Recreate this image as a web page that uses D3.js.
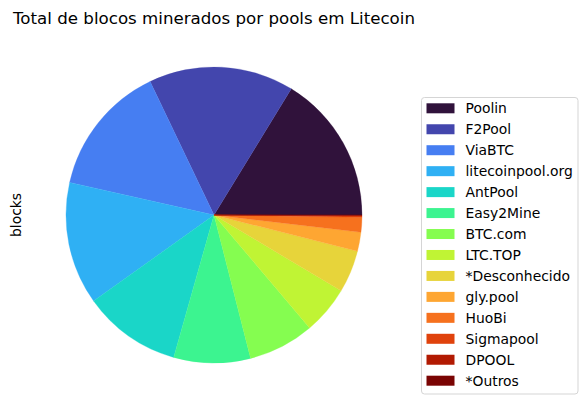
<!DOCTYPE html>
<html>
<head>
<meta charset="utf-8">
<script src="https://cdn.jsdelivr.net/npm/d3@7"></script>
<style>
  body { margin: 0; background: #fff; }
  svg text { font-family: "DejaVu Sans", sans-serif; fill: #000; }
</style>
</head>
<body>
<svg id="chart" width="588" height="411"></svg>
<script>
const pools = ["Poolin", "F2Pool", "ViaBTC", "litecoinpool.org", "AntPool", "Easy2Mine",
    "BTC.com", "LTC.TOP", "*Desconhecido", "gly.pool", "HuoBi", "Sigmapool", "DPOOL", "*Outros"];
const blocks = [16230, 15830, 14340, 13390, 10720, 8360, 7190, 5250, 4610, 2080, 1610, 150, 70, 30];
const colors = ["#30123b", "#4346ad", "#467ef2", "#2fb0f4", "#1ad6c8", "#3cf490", "#85fd50",
    "#c0f434", "#e7d43a", "#fea632", "#f6711e", "#e0420c", "#b21a02", "#7a0403"];

const svg = d3.select("#chart");
const cx = 214, cy = 215, radius = 148;

const data = pools.map((p, i) => ({ pool: p, value: blocks[i], color: colors[i] }));

// matplotlib style: start at 3 o'clock, go counterclockwise
const pie = d3.pie()
    .sort(null)
    .value(d => d.value)
    .startAngle(Math.PI / 2)
    .endAngle(Math.PI / 2 - 2 * Math.PI);

const arc = d3.arc().innerRadius(0).outerRadius(radius);

svg.append("g")
    .attr("transform", `translate(${cx},${cy})`)
    .selectAll("path")
    .data(pie(data))
    .enter().append("path")
    .attr("d", arc)
    .attr("fill", d => d.data.color)
    .attr("stroke", d => d.data.color)
    .attr("stroke-width", 0.3);

svg.append("text")
    .attr("x", cx)
    .attr("y", 24)
    .attr("text-anchor", "middle")
    .style("font-size", "16.67px")
    .text("Total de blocos minerados por pools em Litecoin");

svg.append("text")
    .attr("transform", `translate(21,${cy}) rotate(-90)`)
    .attr("text-anchor", "middle")
    .style("font-size", "13.9px")
    .text("blocks");

// legend
const legend = svg.append("g").attr("transform", "translate(421.5,97.5)");
legend.append("rect")
    .attr("width", 156.5)
    .attr("height", 296.5)
    .attr("rx", 3)
    .attr("fill", "#fff")
    .attr("stroke", "#d5d5d5")
    .attr("stroke-width", 1);

const rowY = d3.scaleLinear().domain([0, pools.length - 1]).range([10.8, 283.2]);

const items = legend.selectAll(".item")
    .data(data)
    .enter().append("g")
    .attr("class", "item")
    .attr("transform", (d, i) => `translate(0,${rowY(i)})`);

items.append("rect")
    .attr("x", 5)
    .attr("y", -5)
    .attr("width", 28)
    .attr("height", 10)
    .attr("fill", d => d.color);

items.append("text")
    .attr("x", 44)
    .attr("y", 5)
    .style("font-size", "13.9px")
    .text(d => d.pool);
</script>
</body>
</html>
